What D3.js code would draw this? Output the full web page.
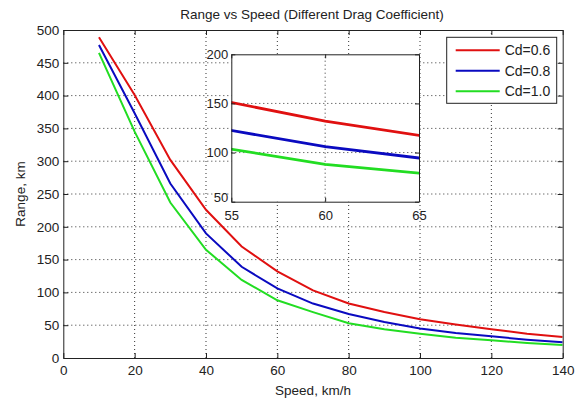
<!DOCTYPE html>
<html><head><meta charset="utf-8">
<script src="https://cdn.jsdelivr.net/npm/d3@7"></script>
<style>body{margin:0;background:#fff}svg{display:block}text{font-family:"Liberation Sans",Arial,sans-serif;fill:#222}</style>
</head><body><svg id="c" width="585" height="401"></svg>
<script>
const speeds = [10,20,30,40,50,60,70,80,90,100,110,120,130,140];
const rangeCd06 = [489,401,302,226,170,132,103,83,70,59,51,44,37,32];
const rangeCd08 = [477,373,266,190,139,106,83,67,55,45,38,33,28,24];
const rangeCd10 = [465,345,237,165,119,88,70,53,44,37,31,27,23,20];
const seriesNames = ["Cd=0.6","Cd=0.8","Cd=1.0"];
const seriesColors = ["#e01010","#0a0ac0","#22dd22"];
const xTicks = [0,20,40,60,80,100,120,140];
const yTicks = [0,50,100,150,200,250,300,350,400,450,500];
const insetXTicks = [55,60,65];
const insetYTicks = [50,100,150,200];

const series = [rangeCd06, rangeCd08, rangeCd10].map((v,i)=>({name:seriesNames[i],color:seriesColors[i],pts:speeds.map((s,j)=>[s,v[j]])}));
const svg = d3.select("#c");
const M = {l:63.3, r:562.7, t:30, b:358};
const x = d3.scaleLinear().domain([0,140]).range([M.l,M.r]);
const y = d3.scaleLinear().domain([0,500]).range([M.b,M.t]);
const FS = 13.5;

function gridAndAxes(g, xs, ys, xt, yt){
  const [x0,x1]=xs.range(), [y0,y1]=ys.range();
  g.append("rect").attr("x",x0).attr("y",y1).attr("width",x1-x0).attr("height",y0-y1).attr("fill","#fff");
  g.selectAll(null).data(xt.filter(t=>xs(t)>x0+1&&xs(t)<x1-1)).enter().append("line")
    .attr("x1",d=>xs(d)).attr("x2",d=>xs(d)).attr("y1",y0).attr("y2",y1)
    .attr("stroke","#333").attr("stroke-width",1).attr("stroke-dasharray","1,3");
  g.selectAll(null).data(yt.filter(t=>ys(t)<y0-1&&ys(t)>y1+1)).enter().append("line")
    .attr("y1",d=>ys(d)).attr("y2",d=>ys(d)).attr("x1",x0).attr("x2",x1)
    .attr("stroke","#333").attr("stroke-width",1).attr("stroke-dasharray","1,3");
}
function frame(g, xs, ys, xt, yt, tickLen, padX, padY, fs){
  const [x0,x1]=xs.range(), [y0,y1]=ys.range();
  const ax = g.append("g").attr("transform",`translate(0,${y0})`).call(d3.axisBottom(xs).tickValues(xt).tickSizeInner(-tickLen).tickSizeOuter(0).tickPadding(padX));
  const ay = g.append("g").attr("transform",`translate(${x0},0)`).call(d3.axisLeft(ys).tickValues(yt).tickSizeInner(-tickLen).tickSizeOuter(0).tickPadding(padY));
  const at = g.append("g").attr("transform",`translate(0,${y1})`).call(d3.axisTop(xs).tickValues(xt).tickSizeInner(-tickLen).tickSizeOuter(0).tickFormat(""));
  const ar = g.append("g").attr("transform",`translate(${x1},0)`).call(d3.axisRight(ys).tickValues(yt).tickSizeInner(-tickLen).tickSizeOuter(0).tickFormat(""));
  [ax,ay,at,ar].forEach(a=>{a.selectAll("path,line").attr("stroke","#222"); a.selectAll("text").attr("font-size",fs).attr("fill","#222").style("font-family","Liberation Sans, Arial, sans-serif");});
  return {ax, ay};
}

const main = svg.append("g");
gridAndAxes(main, x, y, xTicks, yTicks);
svg.append("clipPath").attr("id","cm").append("rect").attr("x",M.l).attr("y",M.t).attr("width",M.r-M.l).attr("height",M.b-M.t);
const line = d3.line().x(d=>x(d[0])).y(d=>y(d[1]));
main.append("g").attr("clip-path","url(#cm)").selectAll("path").data(series).enter().append("path")
  .attr("d",d=>line(d.pts)).attr("fill","none").attr("stroke",d=>d.color).attr("stroke-width",2);
frame(main, x, y, xTicks, yTicks, 5, 7, 4, FS);

// inset
const I = {l:231.3, r:419, t:54.3, b:201.7};
const xi = d3.scaleLinear().domain([55,65]).range([I.l,I.r]);
const yi = d3.scaleLinear().domain([50,200]).range([I.b,I.t]);
const inset = svg.append("g");
gridAndAxes(inset, xi, yi, insetXTicks, insetYTicks);
svg.append("clipPath").attr("id","ci").append("rect").attr("x",I.l).attr("y",I.t).attr("width",I.r-I.l).attr("height",I.b-I.t);
const linei = d3.line().x(d=>xi(d[0])).y(d=>yi(d[1]));
inset.append("g").attr("clip-path","url(#ci)").selectAll("path").data(series).enter().append("path")
  .attr("d",d=>linei(d.pts)).attr("fill","none").attr("stroke",d=>d.color).attr("stroke-width",2.8);
const ia = frame(inset, xi, yi, insetXTicks, insetYTicks, 4, 9, 3, 13);
ia.ay.selectAll(".tick").filter(d=>d===50).select("text").attr("dy","-0.05em");

// legend
const L = {x:446.7, y:37.3, w:110, h:66};
const lg = svg.append("g");
lg.append("rect").attr("x",L.x).attr("y",L.y).attr("width",L.w).attr("height",L.h).attr("fill","#fff").attr("stroke","#222").attr("stroke-width",1);
series.forEach((s,i)=>{
  const yy = L.y + 13 + i*20.5;
  lg.append("line").attr("x1",L.x+9).attr("x2",L.x+53).attr("y1",yy).attr("y2",yy).attr("stroke",s.color).attr("stroke-width",2);
  lg.append("text").attr("x",L.x+58).attr("y",yy+5).attr("font-size",14).text(s.name);
});

// titles
svg.append("text").attr("x",312).attr("y",19).attr("text-anchor","middle").attr("font-size",13.5).text("Range vs Speed (Different Drag Coefficient)");
svg.append("text").attr("x",313).attr("y",395).attr("text-anchor","middle").attr("font-size",13.5).text("Speed, km/h");
svg.append("text").attr("transform","translate(25,194) rotate(-90)").attr("text-anchor","middle").attr("font-size",13.5).text("Range, km");
</script></body></html>
